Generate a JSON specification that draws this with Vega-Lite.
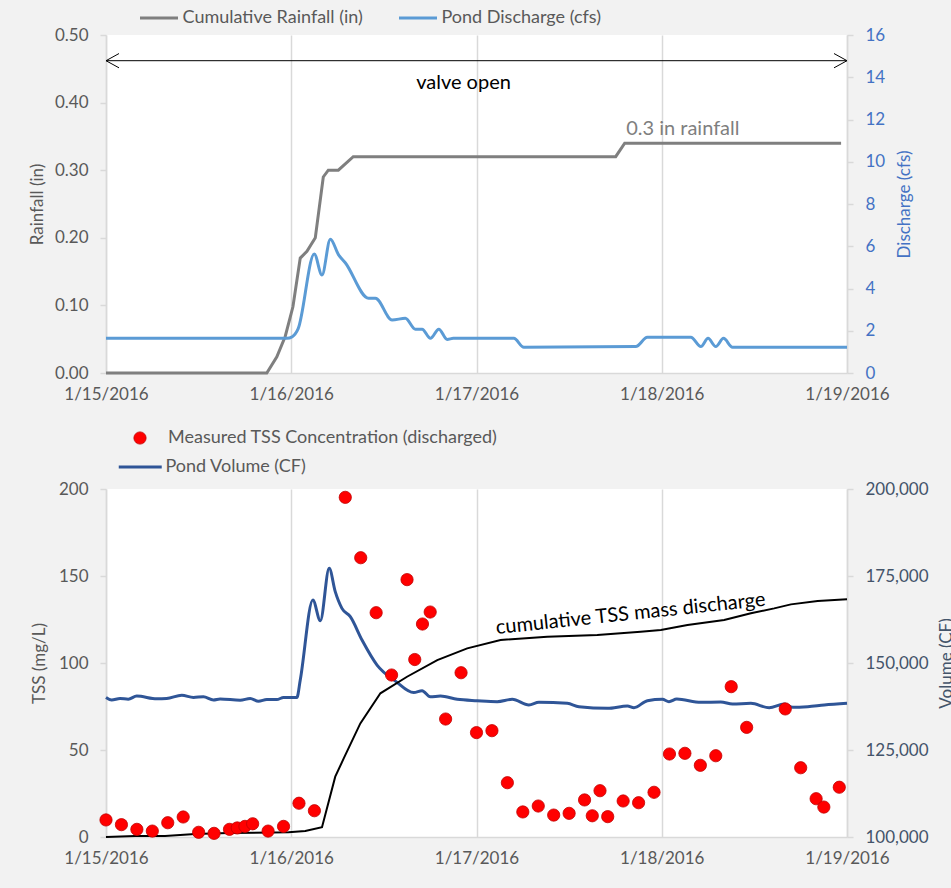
{
  "$schema": "https://vega.github.io/schema/vega-lite/v6.json",
  "background": "#f2f2f2",
  "padding": {"left": 28, "top": 7, "right": 0, "bottom": 30},
  "spacing": 27,
  "config": {
    "font": "Lato",
    "view": {"fill": "white", "stroke": null},
    "axis": {
      "labelFont": "Lato", "titleFont": "Lato", "labelFontSize": 17, "titleFontSize": 17,
      "titleFontWeight": "normal", "labelColor": "#595959", "titleColor": "#595959",
      "domainColor": "#d9d9d9", "tickColor": "#d9d9d9", "gridColor": "#d9d9d9",
      "domainWidth": 1.5, "tickWidth": 1.5, "gridWidth": 1.5
    },
    "legend": {"labelFont": "Lato", "labelFontSize": 18, "labelColor": "#595959", "labelLimit": 0}
  },
  "datasets": {
    "rain": [
      {"t": "2016-01-15T00:00", "rain": 0},
      {"t": "2016-01-15T20:50", "rain": 0},
      {"t": "2016-01-15T22:08", "rain": 0.024},
      {"t": "2016-01-15T23:13", "rain": 0.054},
      {"t": "2016-01-16T00:13", "rain": 0.098},
      {"t": "2016-01-16T01:10", "rain": 0.17},
      {"t": "2016-01-16T02:02", "rain": 0.18},
      {"t": "2016-01-16T03:07", "rain": 0.2},
      {"t": "2016-01-16T04:09", "rain": 0.29},
      {"t": "2016-01-16T04:48", "rain": 0.3},
      {"t": "2016-01-16T06:06", "rain": 0.3},
      {"t": "2016-01-16T08:02", "rain": 0.32},
      {"t": "2016-01-17T18:02", "rain": 0.32},
      {"t": "2016-01-17T19:12", "rain": 0.34},
      {"t": "2016-01-18T23:14", "rain": 0.34}
    ],
    "q": [
      {"t": "2016-01-15T00:00", "q": 1.64},
      {"t": "2016-01-15T23:26", "q": 1.64},
      {"t": "2016-01-16T00:08", "q": 1.72},
      {"t": "2016-01-16T00:54", "q": 2.1},
      {"t": "2016-01-16T02:59", "q": 5.63},
      {"t": "2016-01-16T03:59", "q": 4.64},
      {"t": "2016-01-16T05:04", "q": 6.33},
      {"t": "2016-01-16T06:08", "q": 5.59},
      {"t": "2016-01-16T07:00", "q": 5.22},
      {"t": "2016-01-16T10:01", "q": 3.54},
      {"t": "2016-01-16T10:54", "q": 3.54},
      {"t": "2016-01-16T13:04", "q": 2.51},
      {"t": "2016-01-16T14:47", "q": 2.59},
      {"t": "2016-01-16T16:05", "q": 2.07},
      {"t": "2016-01-16T16:57", "q": 2.07},
      {"t": "2016-01-16T18:02", "q": 1.64},
      {"t": "2016-01-16T19:07", "q": 2.07},
      {"t": "2016-01-16T20:12", "q": 1.59},
      {"t": "2016-01-16T21:00", "q": 1.64},
      {"t": "2016-01-17T04:50", "q": 1.64},
      {"t": "2016-01-17T06:08", "q": 1.22},
      {"t": "2016-01-17T20:38", "q": 1.25},
      {"t": "2016-01-17T22:08", "q": 1.69},
      {"t": "2016-01-18T03:46", "q": 1.69},
      {"t": "2016-01-18T05:04", "q": 1.25},
      {"t": "2016-01-18T06:00", "q": 1.64},
      {"t": "2016-01-18T07:00", "q": 1.25},
      {"t": "2016-01-18T08:00", "q": 1.64},
      {"t": "2016-01-18T09:10", "q": 1.22},
      {"t": "2016-01-19T00:00", "q": 1.22}
    ],
    "tss": [
      {"t": "2016-01-15T00:00", "tss": 9.8},
      {"t": "2016-01-15T02:00", "tss": 7.1},
      {"t": "2016-01-15T04:00", "tss": 4.4},
      {"t": "2016-01-15T06:00", "tss": 3.4},
      {"t": "2016-01-15T08:00", "tss": 8.2},
      {"t": "2016-01-15T10:00", "tss": 11.5},
      {"t": "2016-01-15T12:00", "tss": 2.7},
      {"t": "2016-01-15T14:00", "tss": 2.1},
      {"t": "2016-01-15T16:00", "tss": 4.4},
      {"t": "2016-01-15T17:00", "tss": 5.2},
      {"t": "2016-01-15T18:00", "tss": 6.1},
      {"t": "2016-01-15T19:00", "tss": 7.6},
      {"t": "2016-01-15T21:00", "tss": 3.4},
      {"t": "2016-01-15T23:00", "tss": 6.1},
      {"t": "2016-01-16T01:00", "tss": 19.4},
      {"t": "2016-01-16T03:00", "tss": 15.1},
      {"t": "2016-01-16T07:00", "tss": 195.2},
      {"t": "2016-01-16T09:00", "tss": 160.5},
      {"t": "2016-01-16T11:00", "tss": 128.9},
      {"t": "2016-01-16T13:00", "tss": 93.1},
      {"t": "2016-01-16T15:00", "tss": 147.9},
      {"t": "2016-01-16T16:00", "tss": 102},
      {"t": "2016-01-16T17:00", "tss": 122.4},
      {"t": "2016-01-16T18:00", "tss": 129.3},
      {"t": "2016-01-16T20:00", "tss": 67.8},
      {"t": "2016-01-16T22:00", "tss": 94.4},
      {"t": "2016-01-17T00:00", "tss": 60},
      {"t": "2016-01-17T02:00", "tss": 61.1},
      {"t": "2016-01-17T04:00", "tss": 31.2},
      {"t": "2016-01-17T06:00", "tss": 14.4},
      {"t": "2016-01-17T08:00", "tss": 17.8},
      {"t": "2016-01-17T10:00", "tss": 12.6},
      {"t": "2016-01-17T12:00", "tss": 13.6},
      {"t": "2016-01-17T14:00", "tss": 21.3},
      {"t": "2016-01-17T15:00", "tss": 12.2},
      {"t": "2016-01-17T16:00", "tss": 26.6},
      {"t": "2016-01-17T17:00", "tss": 11.7},
      {"t": "2016-01-17T19:00", "tss": 20.7},
      {"t": "2016-01-17T21:00", "tss": 19.7},
      {"t": "2016-01-17T23:00", "tss": 25.7},
      {"t": "2016-01-18T01:00", "tss": 47.7},
      {"t": "2016-01-18T03:00", "tss": 48.1},
      {"t": "2016-01-18T05:00", "tss": 41.2},
      {"t": "2016-01-18T07:00", "tss": 46.7},
      {"t": "2016-01-18T09:00", "tss": 86.4},
      {"t": "2016-01-18T11:00", "tss": 63},
      {"t": "2016-01-18T16:00", "tss": 73.6},
      {"t": "2016-01-18T18:00", "tss": 39.8},
      {"t": "2016-01-18T20:00", "tss": 22},
      {"t": "2016-01-18T21:00", "tss": 17.2},
      {"t": "2016-01-18T23:00", "tss": 28.6}
    ],
    "vol": [
      {"t": "2016-01-15T00:00", "vol": 140100},
      {"t": "2016-01-15T00:44", "vol": 139370},
      {"t": "2016-01-15T01:49", "vol": 139800},
      {"t": "2016-01-15T02:53", "vol": 139600},
      {"t": "2016-01-15T03:59", "vol": 140520},
      {"t": "2016-01-15T06:35", "vol": 139700},
      {"t": "2016-01-15T07:52", "vol": 139800},
      {"t": "2016-01-15T09:49", "vol": 140720},
      {"t": "2016-01-15T11:20", "vol": 140100},
      {"t": "2016-01-15T12:37", "vol": 140300},
      {"t": "2016-01-15T13:55", "vol": 139370},
      {"t": "2016-01-15T14:47", "vol": 139670},
      {"t": "2016-01-15T17:23", "vol": 139300},
      {"t": "2016-01-15T18:41", "vol": 139800},
      {"t": "2016-01-15T19:45", "vol": 139000},
      {"t": "2016-01-15T20:50", "vol": 139500},
      {"t": "2016-01-15T22:08", "vol": 139500},
      {"t": "2016-01-15T23:00", "vol": 140100},
      {"t": "2016-01-16T00:44", "vol": 140100},
      {"t": "2016-01-16T01:10", "vol": 145100},
      {"t": "2016-01-16T02:48", "vol": 168100},
      {"t": "2016-01-16T03:46", "vol": 162150},
      {"t": "2016-01-16T04:55", "vol": 177200},
      {"t": "2016-01-16T05:42", "vol": 170500},
      {"t": "2016-01-16T06:34", "vol": 165700},
      {"t": "2016-01-16T07:39", "vol": 163300},
      {"t": "2016-01-16T09:10", "vol": 156600},
      {"t": "2016-01-16T11:07", "vol": 149400},
      {"t": "2016-01-16T13:30", "vol": 144800},
      {"t": "2016-01-16T15:52", "vol": 141500},
      {"t": "2016-01-16T16:57", "vol": 142050},
      {"t": "2016-01-16T18:01", "vol": 140300},
      {"t": "2016-01-16T19:20", "vol": 140500},
      {"t": "2016-01-16T21:30", "vol": 139570},
      {"t": "2016-01-17T00:05", "vol": 139170},
      {"t": "2016-01-17T02:41", "vol": 138900},
      {"t": "2016-01-17T04:38", "vol": 139570},
      {"t": "2016-01-17T06:47", "vol": 137930},
      {"t": "2016-01-17T08:05", "vol": 138700},
      {"t": "2016-01-17T11:46", "vol": 138400},
      {"t": "2016-01-17T13:16", "vol": 137450},
      {"t": "2016-01-17T16:58", "vol": 136980},
      {"t": "2016-01-17T19:33", "vol": 137640},
      {"t": "2016-01-17T20:24", "vol": 137150},
      {"t": "2016-01-17T22:08", "vol": 139170},
      {"t": "2016-01-18T00:05", "vol": 139570},
      {"t": "2016-01-18T00:56", "vol": 138900},
      {"t": "2016-01-18T01:57", "vol": 139650},
      {"t": "2016-01-18T05:04", "vol": 138700},
      {"t": "2016-01-18T07:39", "vol": 138800},
      {"t": "2016-01-18T09:10", "vol": 138200},
      {"t": "2016-01-18T11:33", "vol": 138400},
      {"t": "2016-01-18T13:55", "vol": 137150},
      {"t": "2016-01-18T15:52", "vol": 138200},
      {"t": "2016-01-18T16:58", "vol": 137260},
      {"t": "2016-01-18T18:55", "vol": 137450},
      {"t": "2016-01-18T21:03", "vol": 137930},
      {"t": "2016-01-19T00:00", "vol": 138400}
    ],
    "cum": [
      {"t": "2016-01-15T00:00", "cum": 0},
      {"t": "2016-01-15T03:46", "cum": 0.6},
      {"t": "2016-01-15T07:39", "cum": 0.6},
      {"t": "2016-01-15T11:33", "cum": 1.7},
      {"t": "2016-01-15T15:52", "cum": 2.3},
      {"t": "2016-01-15T23:39", "cum": 2.7},
      {"t": "2016-01-16T01:49", "cum": 3.4},
      {"t": "2016-01-16T03:59", "cum": 5.6},
      {"t": "2016-01-16T05:42", "cum": 34.7},
      {"t": "2016-01-16T06:47", "cum": 45},
      {"t": "2016-01-16T08:57", "cum": 65.3},
      {"t": "2016-01-16T11:33", "cum": 82.6},
      {"t": "2016-01-16T15:00", "cum": 92.1},
      {"t": "2016-01-16T18:55", "cum": 101.7},
      {"t": "2016-01-16T22:48", "cum": 108.4},
      {"t": "2016-01-17T03:07", "cum": 113.2},
      {"t": "2016-01-17T09:10", "cum": 115.1},
      {"t": "2016-01-17T15:39", "cum": 116.1},
      {"t": "2016-01-17T21:16", "cum": 118},
      {"t": "2016-01-17T23:53", "cum": 119},
      {"t": "2016-01-18T03:20", "cum": 121.8},
      {"t": "2016-01-18T08:05", "cum": 124.7},
      {"t": "2016-01-18T11:33", "cum": 128.6},
      {"t": "2016-01-18T14:34", "cum": 131.4},
      {"t": "2016-01-18T16:44", "cum": 133.7},
      {"t": "2016-01-18T20:12", "cum": 135.6},
      {"t": "2016-01-19T00:00", "cum": 136.6}
    ],
    "arrow": [
      {"t": "2016-01-15T00:00", "t2": "2016-01-19T00:00", "y": 0.462}
    ],
    "arrowheads": [
      {"t": "2016-01-15T00:00", "y": 0.462, "side": "L"},
      {"t": "2016-01-19T00:00", "y": 0.462, "side": "R"}
    ],
    "valve": [
      {"t": "2016-01-16T22:19", "y": 0.429, "label": "valve open"}
    ],
    "rainnote": [
      {"t": "2016-01-18T02:44", "y": 0.3605, "label": "0.3 in rainfall"}
    ],
    "cumnote": [
      {"t": "2016-01-17T19:58", "y": 128.2, "label": "cumulative TSS mass discharge"}
    ]
  },
  "resolve": {
    "scale": {"color": "independent", "fill": "independent", "stroke": "independent"},
    "legend": {"color": "independent", "fill": "independent", "stroke": "independent"}
  },
  "vconcat": [
    {
      "width": 741,
      "height": 338,
      "encoding": {
        "x": {
          "field": "t", "type": "temporal",
          "scale": {"domain": [{"year": 2016, "month": 1, "date": 15}, {"year": 2016, "month": 1, "date": 19}], "nice": false},
          "axis": {
            "title": null, "format": "%-m/%-d/%Y", "grid": true, "ticks": false, "tickSize": 0,
            "labelPadding": 13, "labelFlush": false, "labelOverlap": false,
            "values": [
              {"year": 2016, "month": 1, "date": 15}, {"year": 2016, "month": 1, "date": 16},
              {"year": 2016, "month": 1, "date": 17}, {"year": 2016, "month": 1, "date": 18},
              {"year": 2016, "month": 1, "date": 19}
            ]
          }
        }
      },
      "layer": [
        {
          "data": {"name": "rain"},
          "mark": {"type": "line", "strokeWidth": 3},
          "encoding": {
            "y": {
              "field": "rain", "type": "quantitative", "scale": {"domain": [0, 0.5]},
              "axis": {"orient": "left", "title": "Rainfall (in)", "values": [0, 0.1, 0.2, 0.3, 0.4, 0.5], "format": ".2f", "grid": false, "tickSize": 6, "labelPadding": 12, "titlePadding": 8}
            },
            "color": {
              "datum": "Cumulative Rainfall (in)", "type": "nominal",
              "scale": {"domain": ["Cumulative Rainfall (in)", "Pond Discharge (cfs)"], "range": ["#7f7f7f", "#5b9bd5"]},
              "legend": {"orient": "none", "legendX": 42, "legendY": -28, "direction": "horizontal", "title": null, "symbolType": "M-2,0L2,0", "symbolSize": 361, "symbolStrokeWidth": 3, "columnPadding": 30, "labelOffset": 12.5}
            }
          }
        },
        {
          "data": {"name": "q"},
          "mark": {"type": "line", "strokeWidth": 3, "interpolate": "monotone"},
          "encoding": {
            "y": {
              "field": "q", "type": "quantitative", "scale": {"domain": [0, 16]},
              "axis": {"orient": "right", "title": "Discharge (cfs)", "values": [0, 2, 4, 6, 8, 10, 12, 14, 16], "grid": false, "tickSize": 6, "labelPadding": 12, "titlePadding": 12, "labelColor": "#4472c4", "titleColor": "#4472c4", "titleAngle": 270, "titleBaseline": "top"}
            },
            "color": {"datum": "Pond Discharge (cfs)", "type": "nominal"}
          }
        },
        {
          "data": {"name": "arrow"},
          "mark": {"type": "rule", "color": "black", "strokeWidth": 1},
          "encoding": {
            "x2": {"field": "t2"},
            "y": {"field": "y", "type": "quantitative", "scale": {"domain": [0, 0.5]}, "axis": null}
          }
        },
        {
          "data": {"name": "arrowheads"},
          "mark": {"type": "point", "filled": false, "color": "black", "strokeWidth": 1, "size": 169, "opacity": 1},
          "encoding": {
            "y": {"field": "y", "type": "quantitative", "scale": {"domain": [0, 0.5]}, "axis": null},
            "shape": {"field": "side", "type": "nominal", "scale": {"domain": ["L", "R"], "range": ["M2,-1.1L0,0L2,1.1", "M-2,-1.1L0,0L-2,1.1"]}, "legend": null}
          }
        },
        {
          "data": {"name": "valve"},
          "mark": {"type": "text", "fontSize": 20, "color": "black", "font": "Lato"},
          "encoding": {
            "y": {"field": "y", "type": "quantitative", "scale": {"domain": [0, 0.5]}, "axis": null},
            "text": {"field": "label"}
          }
        },
        {
          "data": {"name": "rainnote"},
          "mark": {"type": "text", "fontSize": 20, "color": "#7f7f7f", "font": "Lato"},
          "encoding": {
            "y": {"field": "y", "type": "quantitative", "scale": {"domain": [0, 0.5]}, "axis": null},
            "text": {"field": "label"}
          }
        }
      ],
      "resolve": {"scale": {"y": "independent"}}
    },
    {
      "width": 741,
      "height": 348,
      "encoding": {
        "x": {
          "field": "t", "type": "temporal",
          "scale": {"domain": [{"year": 2016, "month": 1, "date": 15}, {"year": 2016, "month": 1, "date": 19}], "nice": false},
          "axis": {
            "title": null, "format": "%-m/%-d/%Y", "grid": true, "ticks": false, "tickSize": 0,
            "labelPadding": 13, "labelFlush": false, "labelOverlap": false,
            "values": [
              {"year": 2016, "month": 1, "date": 15}, {"year": 2016, "month": 1, "date": 16},
              {"year": 2016, "month": 1, "date": 17}, {"year": 2016, "month": 1, "date": 18},
              {"year": 2016, "month": 1, "date": 19}
            ]
          }
        }
      },
      "layer": [
        {
          "data": {"name": "vol"},
          "mark": {"type": "line", "strokeWidth": 3, "interpolate": "monotone"},
          "encoding": {
            "y": {
              "field": "vol", "type": "quantitative", "scale": {"domain": [100000, 200000]},
              "axis": {"orient": "right", "title": "Volume (CF)", "values": [100000, 125000, 150000, 175000, 200000], "labelExpr": "format(datum.value, ',')", "grid": false, "tickSize": 6, "labelPadding": 12, "titlePadding": 10, "labelColor": "#44546a", "titleColor": "#44546a", "titleAngle": 270, "titleBaseline": "top"}
            },
            "stroke": {
              "datum": "Pond Volume (CF)", "type": "nominal",
              "scale": {"domain": ["Pond Volume (CF)"], "range": ["#2f5597"]},
              "legend": {"orient": "none", "legendX": 21.75, "legendY": -34.5, "title": null, "symbolType": "M-2,0L2,0", "symbolSize": 462, "symbolStrokeWidth": 3, "labelOffset": 12.75}
            }
          }
        },
        {
          "data": {"name": "cum"},
          "mark": {"type": "line", "strokeWidth": 2, "color": "black"},
          "encoding": {
            "y": {"field": "cum", "type": "quantitative", "scale": {"domain": [0, 200]}, "axis": null}
          }
        },
        {
          "data": {"name": "tss"},
          "mark": {"type": "point", "filled": true, "size": 150, "stroke": "#c00000", "strokeWidth": 0.8, "opacity": 1},
          "encoding": {
            "y": {
              "field": "tss", "type": "quantitative", "scale": {"domain": [0, 200]},
              "axis": {"orient": "left", "title": "TSS (mg/L)", "values": [0, 50, 100, 150, 200], "grid": false, "tickSize": 6, "labelPadding": 12, "titlePadding": 10}
            },
            "fill": {
              "datum": "Measured TSS Concentration (discharged)", "type": "nominal",
              "scale": {"domain": ["Measured TSS Concentration (discharged)"], "range": ["#ff0000"]},
              "legend": {"orient": "none", "legendX": 25, "legendY": -60, "title": null, "symbolType": "circle", "symbolSize": 150, "symbolStrokeColor": "#c00000", "symbolStrokeWidth": 0.8, "symbolOpacity": 1, "labelOffset": 19}
            }
          }
        },
        {
          "data": {"name": "cumnote"},
          "mark": {"type": "text", "fontSize": 20, "color": "black", "font": "Lato", "angle": 354},
          "encoding": {
            "y": {"field": "y", "type": "quantitative", "scale": {"domain": [0, 200]}, "axis": null},
            "text": {"field": "label"}
          }
        }
      ],
      "resolve": {"scale": {"y": "independent"}}
    }
  ]
}
